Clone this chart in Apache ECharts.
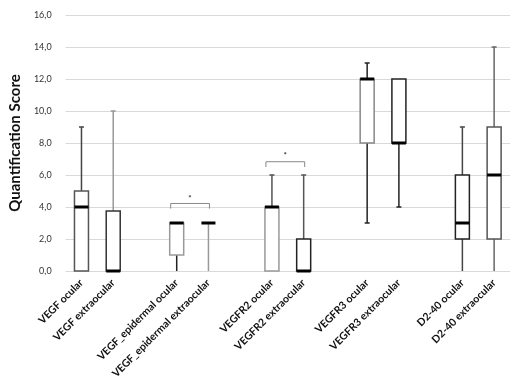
<!DOCTYPE html>
<html><head><meta charset="utf-8">
<script src="https://cdn.jsdelivr.net/npm/echarts@6/dist/echarts.min.js"></script>
<style>html,body{margin:0;padding:0;background:#fff}#c{width:515px;height:389px}</style>
</head><body><div id="c"></div>
<script>
const categories = ['VEGF ocular','VEGF extraocular','','VEGF_epidermal ocular','VEGF_epidermal extraocular','','VEGFR2 ocular','VEGFR2 extraocular','','VEGFR3 ocular','VEGFR3 extraocular','','D2-40 ocular','D2-40 extraocular'];
const mins    = [0, 0, null, 0, 0, null, 0, 0, null, 3, 4, null, 0, 0];
const q1s     = [0, 0, null, 1, 3, null, 0, 0, null, 8, 8, null, 2, 2];
const medians = [4, 0, null, 3, 3, null, 4, 0, null, 12, 8, null, 3, 6];
const q3s     = [5, 3.75, null, 3, 3, null, 4, 2, null, 12, 12, null, 6, 9];
const maxs    = [9, 10, null, 3, 3, null, 6, 6, null, 13, 12, null, 9, 14];
const boxColors     = ['#555','#333',null,'#999','#777',null,'#999','#222',null,'#888','#222',null,'#222','#555'];
const whiskerColors = ['#444','#999',null,'#222','#999',null,'#555','#555',null,'#222','#222',null,'#444','#666'];
// significance brackets: [left category, right category, bracket level, tick end level, star level]
const brackets = [[3, 4, 4.22, 3.9, 4.55], [6, 7, 6.83, 6.5, 7.2]];
const yTicks = [0, 2, 4, 6, 8, 10, 12, 14, 16];

const boxData = [];
categories.forEach((c, i) => {
  if (mins[i] !== null) boxData.push([i, mins[i], q1s[i], medians[i], q3s[i], maxs[i]]);
});

const chart = echarts.init(document.getElementById('c'));
chart.setOption({
  animation: false,
  grid: {left: 52, right: 5, top: 15, bottom: 118},
  xAxis: {
    type: 'category', data: categories,
    axisLine: {show: false}, axisTick: {show: false},
    axisLabel: {interval: 0, rotate: 45, fontFamily: 'Lato', fontWeight: 'bold', fontSize: 10.5, color: '#111', margin: 10}
  },
  yAxis: {
    type: 'value', min: yTicks[0], max: yTicks[yTicks.length - 1], interval: 2,
    name: 'Quantification Score', nameLocation: 'middle', nameGap: 30,
    nameTextStyle: {fontFamily: 'Lato', fontWeight: 'bold', fontSize: 15, color: '#111'},
    axisLine: {show: false}, axisTick: {show: false},
    axisLabel: {fontFamily: 'Lato', fontSize: 9, color: '#333', margin: 14,
      formatter: v => v.toFixed(1).replace('.', ',')},
    splitLine: {lineStyle: {color: '#d9d9d9', width: 1}}
  },
  series: [
    {
      type: 'custom', data: boxData,
      renderItem: (params, api) => {
        const ci = api.value(0);
        const mn = api.value(1), q1 = api.value(2), md = api.value(3), q3 = api.value(4), mx = api.value(5);
        const x = api.coord([ci, 0])[0];
        const y = v => api.coord([ci, v])[1];
        const bw = 14, cw = 5;
        const bc = boxColors[ci], wc = whiskerColors[ci];
        const ch = [];
        if (mx > q3) {
          ch.push({type: 'line', shape: {x1: x, y1: y(q3), x2: x, y2: y(mx)}, style: {stroke: wc, lineWidth: 1.5}});
          ch.push({type: 'line', shape: {x1: x - cw/2, y1: y(mx), x2: x + cw/2, y2: y(mx)}, style: {stroke: wc, lineWidth: 1.5}});
        }
        if (mn < q1) {
          ch.push({type: 'line', shape: {x1: x, y1: y(q1), x2: x, y2: y(mn)}, style: {stroke: wc, lineWidth: 1.5}});
          if (mn > 0) ch.push({type: 'line', shape: {x1: x - cw/2, y1: y(mn), x2: x + cw/2, y2: y(mn)}, style: {stroke: wc, lineWidth: 1.5}});
        }
        if (q3 > q1) {
          ch.push({type: 'rect', shape: {x: x - bw/2, y: y(q3), width: bw, height: y(q1) - y(q3)},
            style: {fill: '#fff', stroke: bc, lineWidth: 1.5}});
        }
        ch.push({type: 'line', shape: {x1: x - bw/2, y1: y(md), x2: x + bw/2, y2: y(md)}, style: {stroke: '#000', lineWidth: 3}});
        return {type: 'group', children: ch};
      },
      z: 3
    },
    {
      type: 'custom', data: brackets,
      renderItem: (params, api) => {
        const a = api.value(0), b = api.value(1), top = api.value(2), tk = api.value(3), st = api.value(4);
        const xa = api.coord([a, 0])[0] - 6, xb = api.coord([b, 0])[0] + 1;
        const yt = api.coord([a, top])[1], yk = api.coord([a, tk])[1], ys = api.coord([a, st])[1];
        return {type: 'group', children: [
          {type: 'polyline', shape: {points: [[xa, yk], [xa, yt], [xb, yt], [xb, yk]]}, style: {stroke: '#888', lineWidth: 1, fill: null}},
          {type: 'text', style: {x: (xa + xb) / 2, y: ys, text: '*', fill: '#333', font: 'bold 8px Lato', align: 'center', verticalAlign: 'middle'}}
        ]};
      },
      z: 4
    }
  ]
});
</script></body></html>
